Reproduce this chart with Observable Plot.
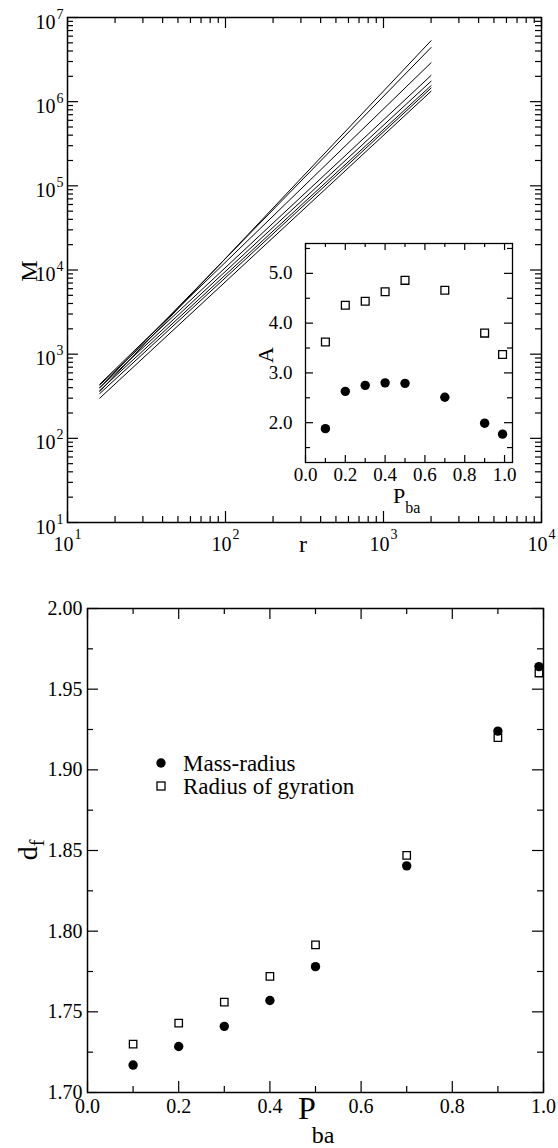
<!DOCTYPE html>
<html><head><meta charset="utf-8">
<script src="https://cdn.jsdelivr.net/npm/d3@7"></script>
<script src="https://cdn.jsdelivr.net/npm/@observablehq/plot@0.6"></script>
<style>
body{margin:0;background:#fff;}
#wrap{position:relative;width:558px;height:1148px;font-family:"Liberation Serif","Times New Roman",serif;}
#wrap svg{position:absolute;overflow:visible;background:transparent;}
#wrap svg text{font-family:"Liberation Serif","Times New Roman",serif !important;}
</style></head><body><div id="wrap"></div>
<script>
// ---------- data ----------
// P_ba values (inset and lower panel)
const pba = [0.1, 0.2, 0.3, 0.4, 0.5, 0.7, 0.9, 0.99];
// inset: prefactor A
const aMassRadius = [1.88, 2.63, 2.75, 2.80, 2.79, 2.51, 1.99, 1.77];
const aGyration   = [3.62, 4.36, 4.44, 4.63, 4.86, 4.66, 3.80, 3.37];
// lower panel: fractal dimension d_f
const dfMassRadius = [1.717, 1.7285, 1.741, 1.757, 1.778, 1.8405, 1.924, 1.964];
const dfGyration   = [1.730, 1.743, 1.756, 1.772, 1.7915, 1.847, 1.920, 1.960];
// upper panel: M(r) curves (read at first and last radius)
const curveIds = ["c1", "c2", "c3", "c4", "c5", "c6", "c7", "c8"];
const rFirst = 16, rLast = 2000;
const mFirst = [360, 400, 440, 430, 400, 370, 340, 300];
const mLast  = [5.3e6, 4.4e6, 2.9e6, 2.05e6, 1.75e6, 1.55e6, 1.45e6, 1.33e6];
// ticks
const logXMajor = [1e1, 1e2, 1e3, 1e4];
const logXMinor = [2,3,4,5,6,7,8,9].flatMap(k => [k*10, k*100, k*1000]);
const logYMajor = [1e1, 1e2, 1e3, 1e4, 1e5, 1e6, 1e7];
const logYMinor = [2,3,4,5,6,7,8,9].flatMap(k => [k*10, k*100, k*1e3, k*1e4, k*1e5, k*1e6]);
const insetXMajor = [0, 0.2, 0.4, 0.6, 0.8, 1.0];
const insetXMinor = [0.1, 0.3, 0.5, 0.7, 0.9];
const insetYMajor = [2, 3, 4, 5];
const insetYMinor = [1.5, 2.5, 3.5, 4.5, 5.5];
const lowXMajor = [0, 0.2, 0.4, 0.6, 0.8, 1.0];
const lowXMinor = [0.1, 0.3, 0.5, 0.7, 0.9];
const lowYMajor = [1.70, 1.75, 1.80, 1.85, 1.90, 1.95, 2.00];
const lowYMinor = [1.725, 1.775, 1.825, 1.875, 1.925, 1.975];

// ---------- helpers ----------
const FONT = '"Liberation Serif","Times New Roman",serif';
const wrap = document.getElementById("wrap");
const T = {fontFamily: FONT, fill: "black"};

function tickMarks(xMaj, xMin, yMaj, yMin, W, H, xl, xs, yl, ys) {
  const st = {stroke: "black", strokeWidth: 1.2};
  return [
    Plot.ruleX(xMaj, {x: d => d, insetTop: H - xl, ...st}),
    Plot.ruleX(xMaj, {x: d => d, insetBottom: H - xl, ...st}),
    Plot.ruleX(xMin, {x: d => d, insetTop: H - xs, ...st}),
    Plot.ruleX(xMin, {x: d => d, insetBottom: H - xs, ...st}),
    Plot.ruleY(yMaj, {y: d => d, insetRight: W - yl, ...st}),
    Plot.ruleY(yMaj, {y: d => d, insetLeft: W - yl, ...st}),
    Plot.ruleY(yMin, {y: d => d, insetRight: W - ys, ...st}),
    Plot.ruleY(yMin, {y: d => d, insetLeft: W - ys, ...st})
  ];
}
function place(svg, left, top) {
  svg.style.left = left + "px";
  svg.style.top = top + "px";
  wrap.appendChild(svg);
  return svg;
}
function label(svg, x, y, rotate, anchor, parts) {
  const t = d3.select(svg).append("text")
    .attr("transform", `translate(${x},${y}) rotate(${rotate})`)
    .attr("text-anchor", anchor).attr("font-family", FONT).attr("fill", "black");
  for (const p of parts) {
    t.append("tspan").attr("font-size", p.size).attr("dy", p.dy || 0).attr("dx", p.dx || 0).text(p.text);
  }
}

// ---------- upper panel ----------
{
  const W = 474, H = 505;
  const curves = curveIds.flatMap((id, i) => [
    {id, r: rFirst, M: mFirst[i]},
    {id, r: rLast, M: mLast[i]}
  ]);
  const svg = Plot.plot({
    width: 558, height: 565,
    marginLeft: 67, marginRight: 17, marginTop: 17, marginBottom: 43,
    style: {fontFamily: FONT, background: "transparent", overflow: "visible"},
    x: {type: "log", domain: [10, 1e4], axis: null},
    y: {type: "log", domain: [10, 1e7], axis: null},
    marks: [
      Plot.line(curves, {x: "r", y: "M", z: "id", stroke: "black", strokeWidth: 1}),
      ...tickMarks(logXMajor, logXMinor, logYMajor, logYMinor, W, H, 11, 6, 11, 6),
      Plot.frame({stroke: "black", strokeWidth: 1.5}),
      Plot.text(logXMajor, {x: d => d, frameAnchor: "bottom", dy: 28, dx: 6, text: () => "10",
        textAnchor: "end", lineAnchor: "bottom", fontSize: 20, ...T}),
      Plot.text(logXMajor, {x: d => d, frameAnchor: "bottom", dy: 16, dx: 7, text: d => String(Math.round(Math.log10(d))),
        textAnchor: "start", lineAnchor: "bottom", fontSize: 14, ...T}),
      Plot.text(logYMajor, {y: d => d, frameAnchor: "left", dx: -12, dy: 11, text: () => "10",
        textAnchor: "end", lineAnchor: "bottom", fontSize: 20, ...T}),
      Plot.text(logYMajor, {y: d => d, frameAnchor: "left", dx: -11, dy: 1, text: d => String(Math.round(Math.log10(d))),
        textAnchor: "start", lineAnchor: "bottom", fontSize: 14, ...T})
    ]
  });
  place(svg, 0, 0);
  label(svg, 37, 271, -90, "middle", [{text: "M", size: 24}]);
  label(svg, 303, 552, 0, "middle", [{text: "r", size: 24}]);
}

// ---------- inset ----------
{
  const W = 207, H = 219;
  const mr = pba.map((p, i) => ({p, A: aMassRadius[i]}));
  const gy = pba.map((p, i) => ({p, A: aGyration[i]}));
  const svg = Plot.plot({
    width: 290, height: 290,
    marginLeft: 65, marginRight: 18, marginTop: 18, marginBottom: 53,
    style: {fontFamily: FONT, background: "transparent", overflow: "visible"},
    x: {domain: [0, 1.04], axis: null},
    y: {domain: [1.2, 5.6], axis: null},
    marks: [
      ...tickMarks(insetXMajor, insetXMinor, insetYMajor, insetYMinor, W, H, 7, 4, 8, 5),
      Plot.frame({stroke: "black", strokeWidth: 1.3}),
      Plot.dot(gy, {x: "p", y: "A", symbol: "square", r: 4.4, stroke: "black", strokeWidth: 1.3, fill: "white"}),
      Plot.dot(mr, {x: "p", y: "A", r: 4.7, fill: "black", stroke: "none"}),
      Plot.text(insetXMajor, {x: d => d, frameAnchor: "bottom", dy: 18, text: d => d.toFixed(1),
        lineAnchor: "bottom", fontSize: 19, ...T}),
      Plot.text(insetYMajor, {y: d => d, frameAnchor: "left", dx: -13, text: d => d.toFixed(1),
        textAnchor: "end", lineAnchor: "middle", fontSize: 19, ...T})
    ]
  });
  place(svg, 240, 225);
  label(svg, 32.5, 130, -90, "middle", [{text: "A", size: 22}]);
  label(svg, 153, 278, 0, "start", [{text: "P", size: 22}, {text: "ba", size: 16, dy: 10}]);
}

// ---------- lower panel ----------
{
  const W = 456, H = 484;
  const mr = pba.map((p, i) => ({p, d: dfMassRadius[i]}));
  const gy = pba.map((p, i) => ({p, d: dfGyration[i]}));
  const svg = Plot.plot({
    width: 558, height: 583,
    marginLeft: 87, marginRight: 15, marginTop: 43, marginBottom: 56,
    style: {fontFamily: FONT, background: "transparent", overflow: "visible"},
    x: {domain: [0, 1], axis: null},
    y: {domain: [1.70, 2.00], axis: null},
    marks: [
      ...tickMarks(lowXMajor, lowXMinor, lowYMajor, lowYMinor, W, H, 11, 6, 11, 6),
      Plot.frame({stroke: "black", strokeWidth: 1.5}),
      Plot.dot(gy, {x: "p", y: "d", symbol: "square", r: 4.2, stroke: "black", strokeWidth: 1.3, fill: "white"}),
      Plot.dot(mr, {x: "p", y: "d", r: 4.7, fill: "black", stroke: "none"}),
      Plot.text(lowXMajor, {x: d => d, frameAnchor: "bottom", dy: 20, text: d => d.toFixed(1),
        lineAnchor: "bottom", fontSize: 20, ...T}),
      Plot.text(lowYMajor, {y: d => d, frameAnchor: "left", dx: -5, text: d => d.toFixed(2),
        textAnchor: "end", lineAnchor: "middle", fontSize: 20, ...T})
    ]
  });
  place(svg, 0, 565);
  // legend
  const g = d3.select(svg).append("g").attr("text-anchor", "start");
  g.append("circle").attr("cx", 161).attr("cy", 198).attr("r", 4.7).attr("fill", "black");
  g.append("rect").attr("x", 157).attr("y", 217).attr("width", 8).attr("height", 8)
    .attr("fill", "white").attr("stroke", "black").attr("stroke-width", 1.3);
  g.append("text").attr("x", 183).attr("y", 206).attr("text-anchor", "start").attr("font-size", 23)
    .attr("font-family", FONT).attr("fill", "black").text("Mass-radius");
  g.append("text").attr("x", 183).attr("y", 229).attr("text-anchor", "start").attr("font-size", 23)
    .attr("font-family", FONT).attr("fill", "black").text("Radius of gyration");
  label(svg, 37, 285, -90, "middle", [{text: "d", size: 28}, {text: "f", size: 20, dy: 7}]);
  label(svg, 298, 554, 0, "start", [{text: "P", size: 32}, {text: "ba", size: 24, dy: 24, dx: -4}]);
}
</script></body></html>
